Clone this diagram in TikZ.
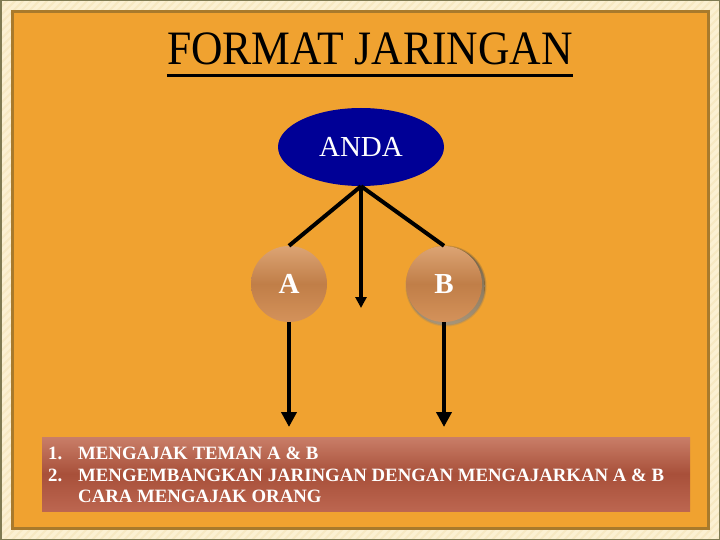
\documentclass[tikz,border=0pt]{standalone}
\usepackage{fontspec}
\usepackage{graphicx}
\setmainfont{Liberation Serif}
\usetikzlibrary{arrows.meta,shapes.geometric}
\definecolor{cream}{HTML}{FBF0D2}
\definecolor{stripe}{HTML}{F6E8C2}
\definecolor{edge}{HTML}{7E7A52}
\definecolor{slide}{HTML}{F0A230}
\definecolor{brownline}{HTML}{A87A2C}
\definecolor{navy}{HTML}{000096}
\definecolor{ballTop}{HTML}{DCA474}
\definecolor{ballMid}{HTML}{C07E48}
\definecolor{ballBot}{HTML}{D4925A}
\definecolor{boxTop}{HTML}{C97E68}
\definecolor{boxMid}{HTML}{A8503A}
\definecolor{boxBot}{HTML}{BC6650}
\definecolor{shade}{HTML}{8A5A30}
\begin{document}
\begin{tikzpicture}[x=1pt,y=-1pt,
  conn/.style={line width=4pt,black},
  ball/.style={circle,minimum size=76pt,inner sep=0pt,top color=ballTop,bottom color=ballBot,middle color=ballMid,text=white,font=\bfseries\fontsize{29}{29}\selectfont},
  item/.style={anchor=base west,inner sep=0pt,text=white,font=\bfseries\fontsize{18.8}{18.8}\selectfont},
  bigtip/.style={-{Triangle[width=15pt,length=15pt]}},
  smalltip/.style={-{Triangle[width=11pt,length=11pt]}}]
\useasboundingbox (0,0) rectangle (720,540);
% frame
\fill[cream] (0,0) rectangle (720,540);
\foreach \i in {-540,-532,...,720} \draw[stripe,line width=2pt] (\i,540) -- (\i+540,0);
\draw[edge,line width=1.5pt] (0.75,0.75) rectangle (719.25,539.25);
\draw[fill=slide,draw=brownline,line width=3pt] (12,12) rectangle (708,528);
% title
\node[inner sep=0pt,anchor=base,font=\fontsize{43.6}{44}\selectfont] (title) at (370,65) {\scalebox{1}[1.1]{FORMAT JARINGAN}};
\draw[line width=3pt] ([yshift=-11pt]title.base west) -- ([yshift=-11pt]title.base east);
% nodes
\node[ellipse,fill=navy,minimum width=166pt,minimum height=78pt,inner sep=0pt,text=white,font=\fontsize{29}{29}\selectfont] (anda) at (361,147) {ANDA};
\foreach \r/\o in {40.5/0.12,39.5/0.2,38.8/0.3} \fill[shade,opacity=\o] (446,286) circle (\r);
\node[ball] (a) at (289,284) {A};
\node[ball] (b) at (444,284) {B};
% connectors
\coordinate (mid) at (361,308);
\coordinate (ta) at (289,427);
\coordinate (tb) at (444,427);
\draw[conn] (anda.south) -- (a.north);
\draw[conn] (anda.south) -- (b.north);
\draw[conn,smalltip] (anda.south) -- (mid);
\draw[conn,bigtip] (a.south) -- (ta);
\draw[conn,bigtip] (b.south) -- (tb);
% box
\node[rectangle,minimum width=648pt,minimum height=74pt,inner sep=0pt,top color=boxTop,bottom color=boxBot,middle color=boxMid] (box) at (366,474) {};
\node[item] (n1) at (48,459) {1.};
\node[item] (t1) at (78,459) {MENGAJAK TEMAN A \& B};
\node[item] (n2) at (48,481) {2.};
\node[item] (t2) at (78,481) {MENGEMBANGKAN JARINGAN DENGAN MENGAJARKAN A \& B};
\node[item] (t3) at (78,502) {CARA MENGAJAK ORANG};
\end{tikzpicture}
\end{document}
